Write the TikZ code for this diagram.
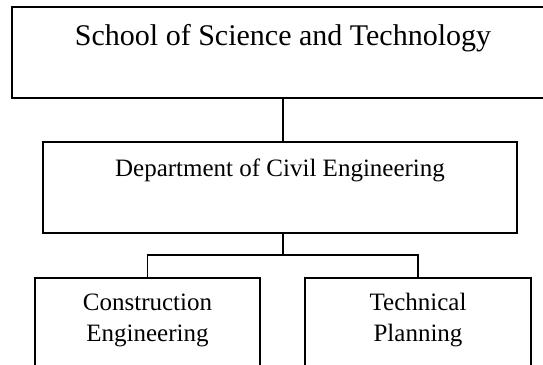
\documentclass[tikz,border=0pt]{standalone}
\usepackage{fontspec}
\setmainfont{Liberation Serif}
\begin{document}
\begin{tikzpicture}[x=1pt,y=-1pt,
  box/.style={draw, line width=1.2pt, inner sep=0pt, outer sep=0pt, anchor=north},
  conn/.style={line width=1.2pt}]
\useasboundingbox (0,0) rectangle (543,364);
\clip (0,0) rectangle (543,364);
\node[box, minimum width=542pt, text height=38pt, text depth=53pt,
      font=\fontsize{30}{36}\selectfont] (school) at (283,7) {School of Science and Technology};
\node[box, minimum width=474pt, text height=34pt, text depth=57pt,
      font=\fontsize{25}{31}\selectfont] (dept) at (280,142) {Department of Civil Engineering};
\node[box, minimum width=225pt, text height=32pt, text depth=80pt,
      font=\fontsize{25}{31}\selectfont] (ce) at (147.5,278)
      {\begin{tabular}[t]{@{}c@{}}Construction\\Engineering\end{tabular}};
\node[box, minimum width=226pt, text height=32pt, text depth=80pt,
      font=\fontsize{25}{31}\selectfont] (tp) at (418,278)
      {\begin{tabular}[t]{@{}c@{}}Technical\\Planning\end{tabular}};
\coordinate (jn) at (283,255);
\draw[conn] (school.south) -- (school.south |- dept.north);
\draw[conn] (school.south |- dept.south) -- (jn);
\draw[conn] (ce.north) |- (jn) -| (tp.north);
\end{tikzpicture}
\end{document}
